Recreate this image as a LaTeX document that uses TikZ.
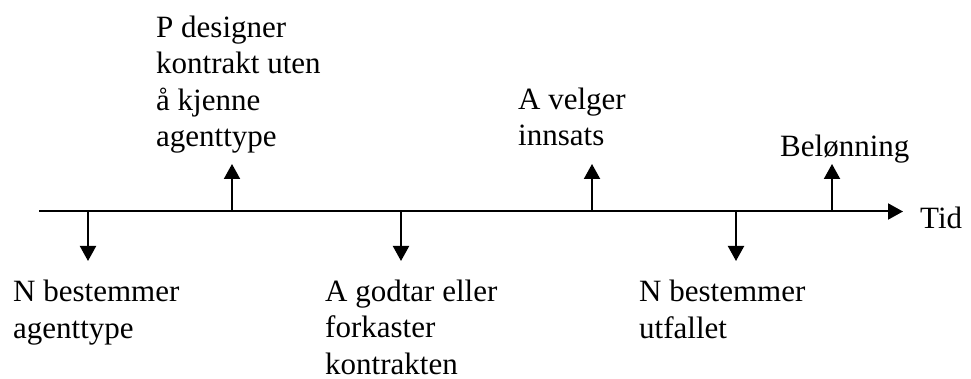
\documentclass[tikz,border=0pt]{standalone}
\usepackage{fontspec}
\setmainfont{Liberation Serif}
\usetikzlibrary{arrows.meta}
\begin{document}
\begin{tikzpicture}[x=1pt,y=-1pt,
  arr/.style={line width=2pt, -{Triangle[length=15pt,width=16pt]}},
  lbl/.style={anchor=base west, inner sep=0pt, align=left, font=\fontsize{31}{36.5}\selectfont}]
\useasboundingbox (0,0) rectangle (971,379);
% axis
\coordinate (s) at (39,211.5);
\coordinate (e) at (903,211.5);
\draw[arr] (s) -- (e);
\node[lbl] (tid) at (920,229) {Tid};
% tick points on axis
\coordinate (d1) at (88,211.5);  \coordinate (d1e) at (88,261);
\coordinate (u1) at (232,211.5); \coordinate (u1e) at (232,164);
\coordinate (d2) at (401,211.5); \coordinate (d2e) at (401,261);
\coordinate (u2) at (592,211.5); \coordinate (u2e) at (592,164);
\coordinate (d3) at (736,211.5); \coordinate (d3e) at (736,261);
\coordinate (u3) at (832,211.5); \coordinate (u3e) at (832,164);
\draw[arr] (d1) -- (d1e);
\draw[arr] (u1) -- (u1e);
\draw[arr] (d2) -- (d2e);
\draw[arr] (u2) -- (u2e);
\draw[arr] (d3) -- (d3e);
\draw[arr] (u3) -- (u3e);
% labels (anchored at the baseline of the last line)
\node[lbl] (p) at (156,147) {P designer\\kontrakt uten\\å kjenne\\agenttype};
\node[lbl] (av) at (518,146) {A velger\\innsats};
\node[lbl] (bel) at (780,157) {Belønning};
\node[lbl] (n1) at (13,338) {N bestemmer\\agenttype};
\node[lbl] (ag) at (325,374) {A godtar eller\\forkaster\\kontrakten};
\node[lbl] (n2) at (639,338) {N bestemmer\\utfallet};
\end{tikzpicture}
\end{document}
